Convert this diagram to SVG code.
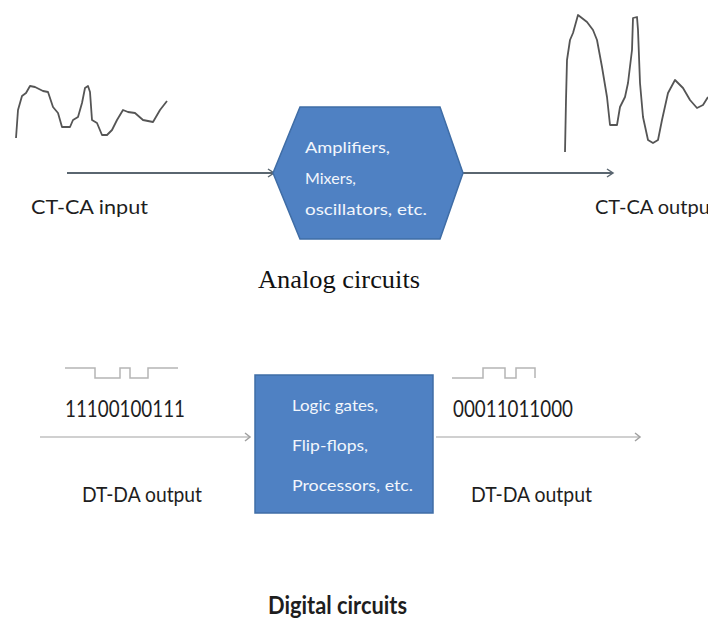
<svg xmlns="http://www.w3.org/2000/svg" width="708" height="625" viewBox="0 0 708 625">
<defs>
<style>
.lbl{font-family:Lato,"Open Sans",sans-serif;fill:#1e1e1e;}
.box{font-family:Lato,"Open Sans",sans-serif;fill:#f2f6fc;font-size:16px;}
.wave{fill:none;stroke:#555;stroke-width:1.8;stroke-linejoin:round;}
.pulse{fill:none;stroke:#b5b5b5;stroke-width:1.5;}
.ca{stroke:#5a6670;stroke-width:2;fill:none;}
.da{stroke:#d0d0d0;stroke-width:2;fill:none;}
.shape{fill:#4f81c3;stroke:#3f6da6;stroke-width:1.5;}
</style>
<marker id="arrCA" markerWidth="10" markerHeight="10" refX="8" refY="5" orient="auto" markerUnits="userSpaceOnUse">
<path d="M2,1 L8,5 L2,9" fill="none" stroke="#5a6670" stroke-width="1.5"/>
</marker>
<marker id="arrDA" markerWidth="10" markerHeight="10" refX="8" refY="5" orient="auto" markerUnits="userSpaceOnUse">
<path d="M3,1 L8,5 L3,9" fill="none" stroke="#a0a0a0" stroke-width="1.5"/>
</marker>
</defs>
<rect width="708" height="625" fill="#ffffff"/>

<g id="connectors">
<line class="ca" x1="67" y1="173" x2="274" y2="173" marker-end="url(#arrCA)"/>
<line class="ca" x1="463" y1="173" x2="613" y2="173" marker-end="url(#arrCA)"/>
<line class="da" x1="40" y1="437" x2="250" y2="437" marker-end="url(#arrDA)"/>
<line class="da" x1="436" y1="437" x2="640" y2="437" marker-end="url(#arrDA)"/>
</g>

<g id="input-wave">
<polyline class="wave" points="16,138 18,110 22,96 26,93 30,86 35,87 43,91 48,92 53,107 58,113 62,127 70,127 73,120 78,117 82,103 85,88 88,86 90,92 92,120 97,123 102,135 107,135 112,130 117,120 123,110 128,112 135,113 143,120 153,122 160,110 167,101"/>
</g>
<g id="output-wave">
<polyline class="wave" points="565,152 566,100 567,60 570,40 573,33 578,15 587,22 593,30 597,40 602,67 607,97 610,125 617,125 620,107 625,97 628,83 632,50 633,18 637,17 638,30 640,83 643,117 648,140 653,143 658,140 662,120 668,93 675,80 683,88 690,100 697,108 703,105 708,97"/>
</g>

<g id="analog-block">
<polygon class="shape" points="273,173 300,107 440,107 463,173 440,239 300,239"/>
<text class="box" x="305" y="153" textLength="85" lengthAdjust="spacingAndGlyphs">Amplifiers,</text>
<text class="box" x="305" y="184">Mixers,</text>
<text class="box" x="305" y="215" textLength="122" lengthAdjust="spacingAndGlyphs">oscillators, etc.</text>
</g>

<g id="ct-ca-input"><text class="lbl" x="31" y="214" font-size="19" textLength="117" lengthAdjust="spacingAndGlyphs">CT-CA input</text></g>
<g id="ct-ca-output"><text class="lbl" x="595" y="214" font-size="19" textLength="122" lengthAdjust="spacingAndGlyphs">CT-CA output</text></g>

<g id="analog-title"><text x="258" y="288" font-family="'Liberation Serif',serif" font-size="25" fill="#111" textLength="162" lengthAdjust="spacingAndGlyphs">Analog circuits</text></g>

<g id="left-pulses">
<polyline class="pulse" points="65,368 95,368 95,378 120,378 120,368 130,368 130,378 148,378 148,368 178,368"/>
</g>
<g id="right-pulses">
<polyline class="pulse" points="452,378 483,378 483,368 505,368 505,378 516,378 516,368 535,368 535,378"/>
</g>

<g id="left-bits"><text class="lbl" x="65" y="417" font-size="24" textLength="120" lengthAdjust="spacingAndGlyphs">11100100111</text></g>
<g id="right-bits"><text class="lbl" x="453" y="417" font-size="24" textLength="120" lengthAdjust="spacingAndGlyphs">00011011000</text></g>

<g id="digital-block">
<rect class="shape" x="255" y="375" width="178" height="138"/>
<text class="box" x="292" y="411" textLength="86" lengthAdjust="spacingAndGlyphs">Logic gates,</text>
<text class="box" x="292" y="451" textLength="76" lengthAdjust="spacingAndGlyphs">Flip-flops,</text>
<text class="box" x="292" y="491" textLength="121" lengthAdjust="spacingAndGlyphs">Processors, etc.</text>
</g>

<g id="dt-da-left"><text class="lbl" x="82" y="502" font-size="21" textLength="120" lengthAdjust="spacingAndGlyphs">DT-DA output</text></g>
<g id="dt-da-right"><text class="lbl" x="471" y="502" font-size="21" textLength="121" lengthAdjust="spacingAndGlyphs">DT-DA output</text></g>

<g id="digital-title"><text class="lbl" x="268" y="614" font-size="25" font-weight="bold" textLength="139" lengthAdjust="spacingAndGlyphs">Digital circuits</text></g>
</svg>
